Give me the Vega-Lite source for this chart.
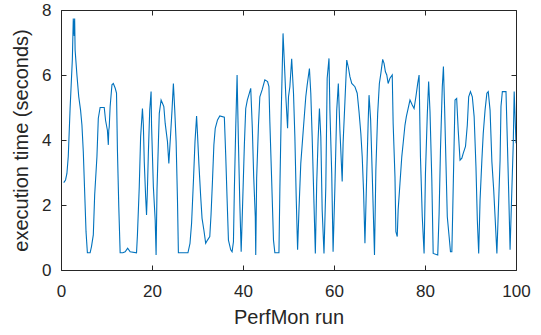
{
  "$schema": "https://vega.github.io/schema/vega-lite/v6.json",
  "width": 455,
  "height": 260,
  "autosize": "none",
  "padding": {"left": 61, "top": 10, "right": 25, "bottom": 65},
  "background": "white",
  "data": {"values": [
    {"run":0.6,"time":2.69},{"run":1.0,"time":2.77},{"run":1.3,"time":2.97},{"run":1.6,"time":3.5},{"run":2.0,"time":4.97},{"run":2.5,"time":6.5},{"run":2.7,"time":7.74},{"run":2.9,"time":7.2},{"run":3.0,"time":7.74},{"run":3.1,"time":6.77},{"run":3.5,"time":6.0},{"run":3.9,"time":5.33},{"run":4.3,"time":4.92},{"run":4.6,"time":4.46},{"run":4.9,"time":3.64},{"run":5.2,"time":2.41},{"run":5.5,"time":1.18},{"run":5.8,"time":0.53},{"run":6.4,"time":0.53},{"run":6.7,"time":0.72},{"run":7.1,"time":1.08},{"run":7.4,"time":2.31},{"run":7.9,"time":3.49},{"run":8.2,"time":4.67},{"run":8.6,"time":5.0},{"run":9.5,"time":5.0},{"run":9.8,"time":4.6},{"run":10.2,"time":4.3},{"run":10.4,"time":3.85},{"run":10.5,"time":4.3},{"run":10.6,"time":4.4},{"run":10.8,"time":5.03},{"run":11.2,"time":5.7},{"run":11.5,"time":5.74},{"run":11.9,"time":5.6},{"run":12.2,"time":5.44},{"run":12.4,"time":3.7},{"run":12.7,"time":1.95},{"run":13.0,"time":0.53},{"run":13.6,"time":0.53},{"run":14.1,"time":0.56},{"run":14.65,"time":0.67},{"run":15.2,"time":0.56},{"run":16.6,"time":0.53},{"run":16.8,"time":1.08},{"run":17.2,"time":2.56},{"run":17.5,"time":4.1},{"run":17.9,"time":4.97},{"run":18.1,"time":4.46},{"run":18.3,"time":3.33},{"run":18.6,"time":2.26},{"run":18.8,"time":1.69},{"run":18.97,"time":2.36},{"run":19.2,"time":3.59},{"run":19.5,"time":4.92},{"run":19.8,"time":5.49},{"run":19.9,"time":4.46},{"run":20.3,"time":2.56},{"run":20.7,"time":1.54},{"run":20.9,"time":0.46},{"run":21.1,"time":2.46},{"run":21.4,"time":3.9},{"run":21.6,"time":4.82},{"run":22.0,"time":5.23},{"run":22.3,"time":5.13},{"run":22.6,"time":5.03},{"run":22.9,"time":4.51},{"run":23.4,"time":3.95},{"run":23.7,"time":3.28},{"run":24.1,"time":4.2},{"run":24.4,"time":4.92},{"run":24.7,"time":5.74},{"run":25.0,"time":4.92},{"run":25.3,"time":3.95},{"run":25.6,"time":2.15},{"run":25.8,"time":0.53},{"run":27.9,"time":0.53},{"run":28.35,"time":0.82},{"run":28.7,"time":1.44},{"run":29.1,"time":2.72},{"run":29.45,"time":3.95},{"run":29.8,"time":4.74},{"run":29.96,"time":4.3},{"run":30.3,"time":3.28},{"run":30.7,"time":2.26},{"run":31.0,"time":1.59},{"run":31.4,"time":1.23},{"run":31.8,"time":0.82},{"run":32.2,"time":0.92},{"run":32.7,"time":1.03},{"run":32.97,"time":1.69},{"run":33.3,"time":2.77},{"run":33.6,"time":3.85},{"run":33.9,"time":4.36},{"run":34.4,"time":4.62},{"run":34.9,"time":4.74},{"run":35.9,"time":4.7},{"run":36.2,"time":3.54},{"run":36.5,"time":2.2},{"run":36.8,"time":0.92},{"run":37.3,"time":0.62},{"run":37.6,"time":0.56},{"run":37.9,"time":0.87},{"run":38.1,"time":2.46},{"run":38.4,"time":4.36},{"run":38.7,"time":6.0},{"run":39.0,"time":3.9},{"run":39.3,"time":2.05},{"run":39.6,"time":0.56},{"run":39.9,"time":1.95},{"run":40.3,"time":3.85},{"run":40.6,"time":4.97},{"run":40.95,"time":5.23},{"run":41.4,"time":5.44},{"run":41.7,"time":5.59},{"run":42.05,"time":4.36},{"run":42.35,"time":2.87},{"run":42.7,"time":1.64},{"run":42.8,"time":0.46},{"run":43.0,"time":2.82},{"run":43.4,"time":4.46},{"run":43.7,"time":5.33},{"run":44.2,"time":5.54},{"run":44.8,"time":5.85},{"run":45.4,"time":5.8},{"run":45.7,"time":5.64},{"run":45.9,"time":4.56},{"run":46.3,"time":2.77},{"run":46.7,"time":0.92},{"run":47.0,"time":0.53},{"run":47.9,"time":0.53},{"run":48.1,"time":2.46},{"run":48.4,"time":4.82},{"run":48.8,"time":7.28},{"run":49.1,"time":6.36},{"run":49.4,"time":5.38},{"run":49.8,"time":4.36},{"run":50.0,"time":5.33},{"run":50.3,"time":5.64},{"run":50.7,"time":6.5},{"run":51.1,"time":5.44},{"run":51.4,"time":4.1},{"run":51.7,"time":2.2},{"run":52.0,"time":0.62},{"run":52.3,"time":1.85},{"run":52.7,"time":3.28},{"run":53.3,"time":4.41},{"run":53.8,"time":5.33},{"run":54.1,"time":5.69},{"run":54.6,"time":6.2},{"run":54.9,"time":5.44},{"run":55.2,"time":4.1},{"run":55.6,"time":2.05},{"run":55.9,"time":0.51},{"run":56.2,"time":2.67},{"run":56.5,"time":4.0},{"run":56.8,"time":4.97},{"run":57.1,"time":4.1},{"run":57.4,"time":1.85},{"run":57.8,"time":0.51},{"run":58.2,"time":2.56},{"run":58.5,"time":5.9},{"run":58.9,"time":6.51},{"run":59.1,"time":4.92},{"run":59.5,"time":2.97},{"run":59.8,"time":0.56},{"run":60.2,"time":2.56},{"run":60.6,"time":4.92},{"run":60.95,"time":5.74},{"run":61.3,"time":4.3},{"run":61.8,"time":2.72},{"run":62.0,"time":3.9},{"run":62.4,"time":5.18},{"run":62.8,"time":6.46},{"run":63.2,"time":6.2},{"run":63.5,"time":5.95},{"run":63.9,"time":5.74},{"run":64.6,"time":5.64},{"run":65.1,"time":5.44},{"run":65.5,"time":4.87},{"run":65.9,"time":4.2},{"run":66.2,"time":3.49},{"run":66.5,"time":2.41},{"run":66.8,"time":0.82},{"run":67.2,"time":2.97},{"run":67.5,"time":4.51},{"run":67.7,"time":5.38},{"run":68.05,"time":4.62},{"run":68.4,"time":2.97},{"run":68.9,"time":0.46},{"run":69.2,"time":3.08},{"run":69.6,"time":4.82},{"run":69.97,"time":5.74},{"run":70.3,"time":6.05},{"run":70.7,"time":6.48},{"run":71.0,"time":6.36},{"run":71.3,"time":6.1},{"run":71.6,"time":6.0},{"run":71.9,"time":5.74},{"run":72.3,"time":5.9},{"run":72.8,"time":6.0},{"run":73.0,"time":4.51},{"run":73.4,"time":2.87},{"run":73.6,"time":1.18},{"run":73.9,"time":1.03},{"run":74.1,"time":1.85},{"run":74.5,"time":2.67},{"run":74.9,"time":3.49},{"run":75.2,"time":3.9},{"run":75.6,"time":4.46},{"run":75.9,"time":4.72},{"run":76.3,"time":4.97},{"run":76.7,"time":5.23},{"run":77.2,"time":5.08},{"run":77.6,"time":4.97},{"run":78.0,"time":5.33},{"run":78.4,"time":5.74},{"run":78.7,"time":6.0},{"run":79.0,"time":3.49},{"run":79.4,"time":1.64},{"run":79.8,"time":0.51},{"run":80.1,"time":2.97},{"run":80.5,"time":4.77},{"run":80.8,"time":5.8},{"run":81.1,"time":4.87},{"run":81.5,"time":2.77},{"run":81.8,"time":0.51},{"run":82.8,"time":0.46},{"run":83.1,"time":1.74},{"run":83.4,"time":3.69},{"run":83.8,"time":5.64},{"run":84.05,"time":6.26},{"run":84.3,"time":5.03},{"run":84.6,"time":3.33},{"run":84.9,"time":1.64},{"run":85.3,"time":1.03},{"run":85.6,"time":0.56},{"run":85.9,"time":0.56},{"run":86.1,"time":1.85},{"run":86.4,"time":3.9},{"run":86.6,"time":5.23},{"run":86.96,"time":5.28},{"run":87.3,"time":4.3},{"run":87.7,"time":3.38},{"run":88.1,"time":3.44},{"run":88.4,"time":3.59},{"run":88.9,"time":3.8},{"run":89.3,"time":4.46},{"run":89.6,"time":5.33},{"run":89.99,"time":5.49},{"run":90.4,"time":5.33},{"run":90.8,"time":4.72},{"run":91.2,"time":3.18},{"run":91.5,"time":1.54},{"run":91.8,"time":0.51},{"run":92.1,"time":2.15},{"run":92.5,"time":3.38},{"run":92.8,"time":4.2},{"run":93.2,"time":4.92},{"run":93.6,"time":5.44},{"run":93.9,"time":5.49},{"run":94.3,"time":4.92},{"run":94.7,"time":3.33},{"run":95.1,"time":2.46},{"run":95.4,"time":1.64},{"run":95.8,"time":0.51},{"run":96.1,"time":1.74},{"run":96.5,"time":3.38},{"run":96.7,"time":5.03},{"run":97.0,"time":5.49},{"run":97.8,"time":5.49},{"run":98.1,"time":3.95},{"run":98.4,"time":2.36},{"run":98.7,"time":0.62},{"run":99.0,"time":2.05},{"run":99.4,"time":3.9},{"run":99.6,"time":5.49},{"run":100,"time":3.9}
  ]},
  "layer": [
    {
      "mark": {"type": "line", "color": "#0072BD", "strokeWidth": 1.1, "clip": true},
      "encoding": {
        "x": {"field": "run", "type": "quantitative", "scale": {"domain": [0, 100], "nice": false, "zero": false},
          "axis": {"orient": "bottom", "values": [0, 20, 40, 60, 80, 100], "tickSize": -5, "labelPadding": 18, "title": "PerfMon run", "titlePadding": 8}},
        "y": {"field": "time", "type": "quantitative", "scale": {"domain": [0, 8], "nice": false},
          "axis": {"orient": "left", "values": [0, 2, 4, 6, 8], "tickSize": -5, "labelPadding": 15, "title": "execution time (seconds)", "titlePadding": 10}}
      }
    },
    {
      "mark": {"type": "line", "opacity": 0},
      "encoding": {
        "x": {"field": "run", "type": "quantitative",
          "axis": {"orient": "top", "values": [0, 20, 40, 60, 80, 100], "tickSize": -5, "labels": false, "title": null}},
        "y": {"field": "time", "type": "quantitative",
          "axis": {"orient": "right", "values": [0, 2, 4, 6, 8], "tickSize": -5, "labels": false, "title": null}}
      }
    }
  ],
  "resolve": {"axis": {"x": "independent", "y": "independent"}},
  "config": {
    "view": {"stroke": null},
    "font": "Liberation Sans",
    "axis": {
      "grid": false,
      "domainColor": "#262626",
      "tickColor": "#262626",
      "labelColor": "#262626",
      "titleColor": "#262626",
      "labelFont": "Liberation Sans",
      "titleFont": "Liberation Sans",
      "labelFontSize": 17,
      "titleFontSize": 20,
      "titleFontWeight": "normal",
      "labelFlush": false,
      "labelOverlap": false,
      "domainWidth": 1,
      "tickWidth": 1
    }
  }
}
